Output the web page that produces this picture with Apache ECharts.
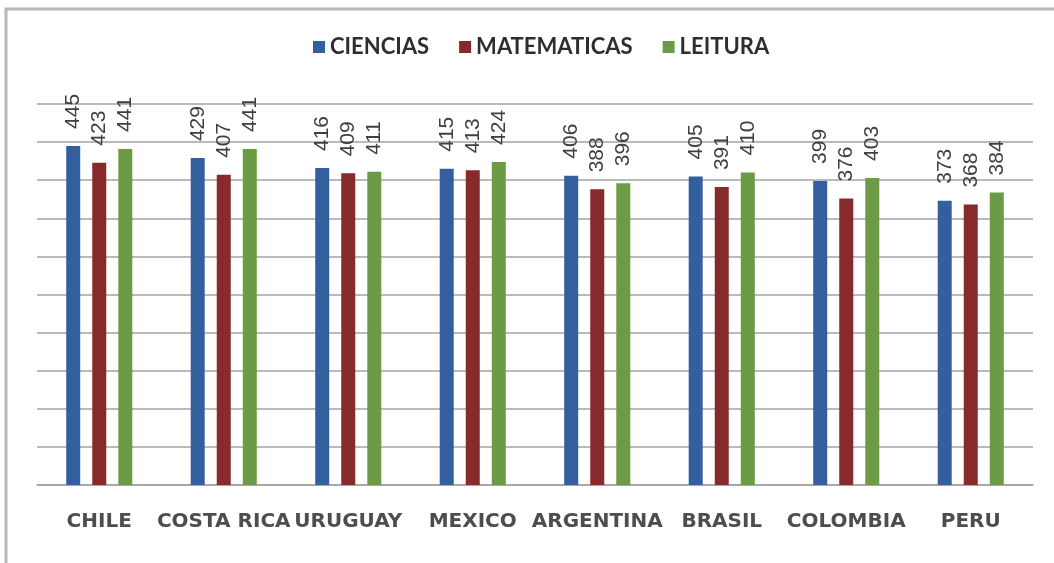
<!DOCTYPE html>
<html>
<head>
<meta charset="utf-8">
<title>PISA - America Latina</title>
<script src="https://cdn.jsdelivr.net/npm/echarts@6/dist/echarts.min.js"></script>
<style>
  html, body { margin: 0; padding: 0; background: #ffffff; }
  #chart { width: 1054px; height: 563px; }
</style>
</head>
<body>
<div id="chart"></div>
<script>
// Countries on the category axis
const countries = ['CHILE', 'COSTA RICA', 'URUGUAY', 'MEXICO', 'ARGENTINA', 'BRASIL', 'COLOMBIA', 'PERU'];

// Average scores per subject
const ciencias    = [445, 429, 416, 415, 406, 405, 399, 373];
const matematicas = [423, 407, 409, 413, 388, 391, 376, 368];
const leitura     = [441, 441, 411, 424, 396, 410, 403, 384];

const seriesNames = ['CIENCIAS', 'MATEMATICAS', 'LEITURA'];
const seriesValues = [ciencias, matematicas, leitura];
const seriesColors = ['#345f9f', '#862a2b', '#6b9b44'];

const chart = echarts.init(document.getElementById('chart'), null, { renderer: 'canvas' });

const gridColor = '#a3a3a3';

const series = seriesNames.map((name, i) => ({
  name: name,
  type: 'bar',
  data: seriesValues[i],
  barWidth: 14,
  barGap: '86%',
  itemStyle: { color: seriesColors[i] },
  label: {
    show: true,
    position: 'top',
    rotate: 90,
    align: 'left',
    verticalAlign: 'middle',
    distance: 17,
    fontFamily: 'Liberation Sans',
    fontSize: 21,
    color: '#3f3f3f'
  }
}));

chart.setOption({
  animation: false,
  backgroundColor: '#ffffff',
  graphic: [{
    type: 'rect',
    shape: { x: 6, y: 9, width: 1200, height: 700 },
    style: { fill: 'none', stroke: '#b8b8b8', lineWidth: 3 },
    silent: true
  }],
  legend: {
    top: 36,
    left: 313,
    padding: 0,
    itemWidth: 12,
    itemHeight: 12,
    itemGap: 30,
    icon: 'rect',
    textStyle: {
      fontFamily: 'Lato',
      fontWeight: 'bold',
      fontSize: 22,
      color: '#2e2e2e'
    },
    data: seriesNames
  },
  grid: {
    left: 37,
    right: 21,
    top: 104,
    bottom: 78,
    containLabel: false
  },
  xAxis: {
    type: 'category',
    data: countries,
    axisTick: { show: false },
    axisLine: { show: true, lineStyle: { color: gridColor, width: 1.5 } },
    axisLabel: {
      interval: 0,
      margin: 27,
      fontFamily: 'DejaVu Sans',
      fontWeight: 'bold',
      fontSize: 20,
      color: '#4d4d4d'
    }
  },
  yAxis: {
    type: 'value',
    min: 0,
    max: 500,
    interval: 50,
    axisLabel: { show: false },
    axisLine: { show: false },
    axisTick: { show: false },
    splitLine: { show: true, lineStyle: { color: gridColor, width: 1.5 } }
  },
  series: series
});
</script>
</body>
</html>
